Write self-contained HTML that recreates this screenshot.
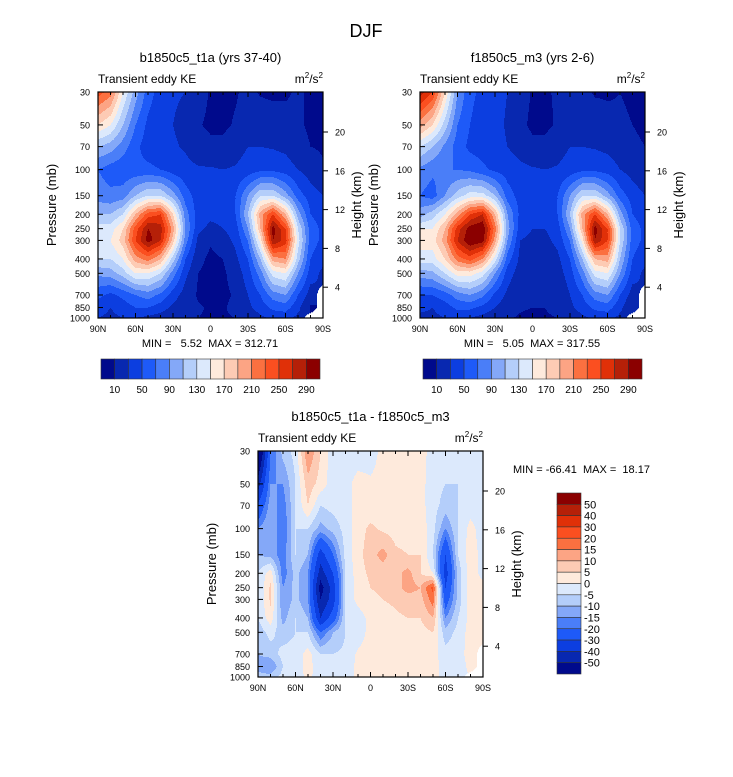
<!DOCTYPE html>
<html><head><meta charset="utf-8">
<style>
html,body{margin:0;padding:0;background:#fff;}
svg text{font-family:"Liberation Sans",sans-serif;fill:#000;}
</style></head>
<body>
<svg id="fig" width="733" height="772" xmlns="http://www.w3.org/2000/svg">
<rect width="733" height="772" fill="#fff"/>
<text x="366" y="37" font-size="18" text-anchor="middle">DJF</text>
</svg>
<script>
const lats=[90,80,70,60,50,40,30,20,10,0,-10,-20,-30,-40,-50,-60,-70,-80,-90];
const levels=[30,50,70,100,150,200,250,300,400,500,700,850,1000];
const pTicks=[30,50,70,100,150,200,250,300,400,500,700,850,1000];
const latTicks=[90,60,30,0,-30,-60,-90];
const latTickLabels=["90N","60N","30N","0","30S","60S","90S"];
const heightTicks=[4,8,12,16,20];
const absLevels=[10,30,50,70,90,110,130,150,170,190,210,230,250,270,290];
const absLabels=["10","50","90","130","170","210","250","290"];
const diffLevels=[-50,-40,-30,-20,-15,-10,-5,0,5,10,15,20,30,40,50];
const diffLabels=["-50","-40","-30","-20","-15","-10","-5","0","5","10","15","20","30","40","50"];
const palette=["#000a8c","#0828b0","#0c3ee0","#1e5af8","#4a7ef8","#84a8f8","#b4cefa","#dce9fc","#feeadc","#fdcbb4","#fca484","#fb7040","#fb4f20","#e03008","#b52008","#8b0000"];
const fieldA=[
[240,220,150,100,60,40,32,30,20,8,6,8,15,8,6,8,12,8,5],
[170,150,110,70,45,35,30,25,12,6,6,12,20,22,20,15,12,8,6],
[110,100,80,55,40,35,32,28,20,15,15,22,30,30,28,25,15,10,8],
[70,60,55,55,55,50,40,35,32,32,30,32,38,45,45,40,30,20,12],
[80,75,80,110,130,130,100,60,40,50,38,50,90,130,130,100,60,40,30],
[110,110,130,190,240,250,170,80,40,35,35,50,110,200,250,190,100,50,40],
[140,140,170,240,290,280,200,90,35,25,30,40,90,190,300,250,130,60,45],
[150,150,180,250,300,270,180,80,25,12,20,35,70,160,290,260,140,60,45],
[130,130,150,200,220,190,120,50,15,6,10,25,50,110,200,210,120,50,35],
[95,100,120,150,150,130,80,35,10,5,7,18,40,80,140,150,90,40,25],
[55,45,55,70,80,65,40,20,8,5,6,12,30,50,80,90,50,20,null],
[40,30,40,50,50,40,25,15,12,8,8,15,25,40,55,60,35,8,null],
[30,25,30,30,25,20,15,12,10,8,8,10,15,25,35,35,25,null,null]];
const fieldB=[
[280,250,170,90,55,45,35,30,20,8,8,12,18,15,8,8,10,8,8],
[200,170,120,70,50,40,35,28,15,6,6,12,20,22,20,15,12,10,8],
[130,110,85,60,45,40,35,30,22,15,15,22,30,30,28,25,20,12,10],
[85,75,70,70,65,55,45,40,35,32,30,32,38,45,45,40,30,22,15],
[70,60,90,120,140,140,110,60,42,50,40,50,90,130,130,100,60,40,30],
[100,120,150,200,250,270,190,90,45,35,35,50,110,200,250,190,100,50,40],
[150,150,190,260,300,310,220,100,40,30,30,40,90,190,300,250,130,60,45],
[160,160,200,270,310,300,200,90,30,25,25,35,70,160,290,250,130,60,45],
[140,140,170,220,240,210,140,60,25,20,20,25,50,110,190,200,110,50,35],
[100,105,130,160,160,140,90,40,20,15,15,20,40,80,140,150,90,40,25],
[50,50,60,80,90,75,45,25,12,10,10,12,30,50,80,90,50,20,null],
[35,30,40,55,55,45,30,18,12,10,10,15,25,40,55,60,35,10,null],
[25,25,30,35,30,22,15,12,8,6,8,10,15,25,35,35,25,null,null]];
const fieldD=[
[-70,-20,-8,-3,15,5,-3,-3,-3,-3,2,3,3,2,-2,-5,-5,-3,-3],
[-45,-15,-15,-5,8,3,-3,-2,2,1,2,3,3,2,-3,-5,-5,-3,-3],
[-28,-12,-18,-5,5,-5,-3,-2,2,2,2,3,3,2,-3,-7,-5,-3,-3],
[-15,-10,-20,-5,-5,-12,-8,-3,3,6,4,3,3,3,-3,-15,-5,2,-3],
[-10,-12,-18,-5,-10,-35,-20,-3,3,8,12,6,5,5,-5,-30,-5,3,-2],
[-5,3,-18,-8,-15,-45,-30,-5,3,6,7,8,12,5,0,-35,-8,3,-2],
[-5,6,-15,-8,-15,-55,-35,-5,2,5,6,8,12,10,22,-30,-8,3,2],
[-5,6,-15,-8,-15,-50,-35,-5,2,4,5,6,8,8,18,-25,-8,3,2],
[-5,3,-12,-5,-10,-40,-25,-5,-3,2,3,4,5,5,10,-15,-5,2,3],
[-8,-3,-8,-5,-5,-20,-10,-5,-3,2,3,3,3,3,5,-8,-3,2,2],
[-10,-8,-3,-3,2,-5,-5,-4,1,2,2,2,2,2,2,-3,-2,2,null],
[-12,-15,-5,-3,2,-3,-3,-2,1,1,2,2,2,2,2,-2,-2,1,null],
[-8,-8,-3,-2,1,-2,-2,-2,1,1,1,1,1,1,1,-1,-1,null,null]];

const NS="http://www.w3.org/2000/svg";
const svg=document.getElementById('fig');
function mk(tag,attrs,parent){const e=document.createElementNS(NS,tag);for(const k in attrs)e.setAttribute(k,attrs[k]);(parent||svg).appendChild(e);return e;}
function txt(s,x,y,size,anchor,parent){const t=mk('text',{x:x,y:y,'font-size':size,'text-anchor':anchor||'start'},parent);t.textContent=s;return t;}
function colorIdx(v,lv){let i=0;while(i<lv.length&&v>=lv[i])i++;return i;}

function panel(name,x0,y0,field,lv,title,mintext,minx,miny,minAnchor){
  const W=225,H=226;
  const g=mk('g',{});
  
  
  const L=Math.log(1000/30);
  const xS=lat=>x0+(90-lat)/180*W;
  const yS=p=>y0+Math.log(p/30)/L*H;
  const zS=z=>y0+40+(20-z)*9.7;
  const plot=mk('g',{},g);
  
  
  const step=1;
  for(let py=0;py<H;py+=step){
    const p=30*Math.exp((py+step/2)/H*L);
    let k=0;while(k<levels.length-2&&p>levels[k+1])k++;
    const ty=Math.min(1,Math.max(0,(Math.log(p)-Math.log(levels[k]))/(Math.log(levels[k+1])-Math.log(levels[k]))));
    let runStart=0,runCol=null;
    const cols=[];
    for(let px=0;px<W;px++){
      const fi=(px+0.5)/W*18;let i=Math.min(17,Math.floor(fi));const tx=fi-i;
      const a=field[k][i],b=field[k][i+1],c=field[k+1][i],d=field[k+1][i+1];
      let col;
      if(a===null||b===null||c===null||d===null){
        const vals=[[a,(1-tx)*(1-ty)],[b,tx*(1-ty)],[c,(1-tx)*ty],[d,tx*ty]];
        let sw=0,sv=0,nw=0;vals.forEach(([v,w])=>{if(v===null)nw+=w;else{sw+=w;sv+=v*w;}});
        col=nw>0.5?'#ffffff':palette[colorIdx(sv/sw,lv)];
      } else {
        const v=(1-ty)*((1-tx)*a+tx*b)+ty*((1-tx)*c+tx*d);
        col=palette[colorIdx(v,lv)];
      }
      cols.push(col);
    }
    cols.push(null);
    for(let px=0;px<=W;px++){
      if(cols[px]!==runCol){
        if(runCol!==null&&runCol!=='#ffffff'){
          const r=mk('rect',{x:x0+runStart,y:y0+py,width:px-runStart,height:step+0.3,fill:runCol},plot);
          
          
        }
        runStart=px;runCol=cols[px];
      }
    }
  }
  const fr=mk('rect',{x:x0,y:y0,width:W,height:H,fill:'none',stroke:'#000','stroke-width':1.2},g);
  
  
  for(let lat=90;lat>=-90;lat-=10){
    const x=xS(lat);const major=lat%30===0;const len=major?5:3;
    mk('line',{x1:x,x2:x,y1:y0+H,y2:y0+H-len,stroke:'#000','stroke-width':1},g);
    mk('line',{x1:x,x2:x,y1:y0,y2:y0+len,stroke:'#000','stroke-width':1},g);
  }
  latTicks.forEach((lat,i)=>{const t=txt(latTickLabels[i],xS(lat),y0+H+14,9,'middle',g);
    
    });
  pTicks.forEach(p=>{const y=yS(p);
    mk('line',{x1:x0,x2:x0+5,y1:y,y2:y,stroke:'#000'},g);
    const t=txt(String(p),x0-8,y+3.5,9,'end',g);
    
    });
  heightTicks.forEach(z=>{const y=zS(z);
    mk('line',{x1:x0+W,x2:x0+W+5,y1:y,y2:y,stroke:'#000'},g);
    const t=txt(String(z),x0+W+12,y+3.5,9,'start',g);
    
    });
  const ti=txt(title,x0+W/2,y0-30,13,'middle',g);
  
  
  const st=txt('Transient eddy KE',x0,y0-9,12,'start',g);
  
  
  const u=mk('text',{x:x0+W,y:y0-9,'font-size':12,'text-anchor':'end'},g);
  u.innerHTML='m<tspan dy="-5" font-size="8">2</tspan><tspan dy="5">/s</tspan><tspan dy="-5" font-size="8">2</tspan>';
  
  
  const yl=txt('Pressure (mb)',0,0,13,'middle',g);
  yl.setAttribute('transform',`translate(${x0-42},${y0+H/2}) rotate(-90)`);
  
  
  const hl=txt('Height (km)',0,0,13,'middle',g);
  hl.setAttribute('transform',`translate(${x0+W+38},${y0+H/2}) rotate(-90)`);
  
  
  const mt=txt(mintext,minx,miny,11,minAnchor,g);
  mt.setAttribute('xml:space','preserve');mt.style.whiteSpace='pre';
  
  
}
panel('panel-b1850',98,92,fieldA,absLevels,'b1850c5_t1a (yrs 37-40)','MIN =   5.52  MAX = 312.71',210,347,'middle');
panel('panel-f1850',420,92,fieldB,absLevels,'f1850c5_m3 (yrs 2-6)','MIN =   5.05  MAX = 317.55',532,347,'middle');
panel('panel-diff',258,451,fieldD,diffLevels,'b1850c5_t1a - f1850c5_m3','MIN = -66.41  MAX =  18.17',513,473,'start');

function hbar(name,x0,y0){
  const g=mk('g',{});
  
  
  const n=palette.length,bw=219/n;
  palette.forEach((c,i)=>{const r=mk('rect',{x:x0+i*bw,y:y0,width:bw,height:20,fill:c,stroke:'#333','stroke-width':0.6},g);
    
    });
  absLevels.forEach((v,i)=>{if(i%2===0){const t=txt(absLabels[i/2],x0+(i+1)*bw,y0+34,10,'middle',g);
    
    }});
}
hbar('colorbar-b1850',101,359);
hbar('colorbar-f1850',423,359);
(function(){
  const g=mk('g',{});
  
  
  const x0=557,y0=493,bh=181/16;
  palette.slice().reverse().forEach((c,i)=>{const r=mk('rect',{x:x0,y:y0+i*bh,width:24,height:bh,fill:c,stroke:'#333','stroke-width':0.6},g);
    
    });
  diffLevels.slice().reverse().forEach((v,i)=>{const t=txt(diffLabels[diffLabels.length-1-i],x0+27,y0+(i+1)*bh+4,11,'start',g);
    
    });
})();
</script>
</body></html>
